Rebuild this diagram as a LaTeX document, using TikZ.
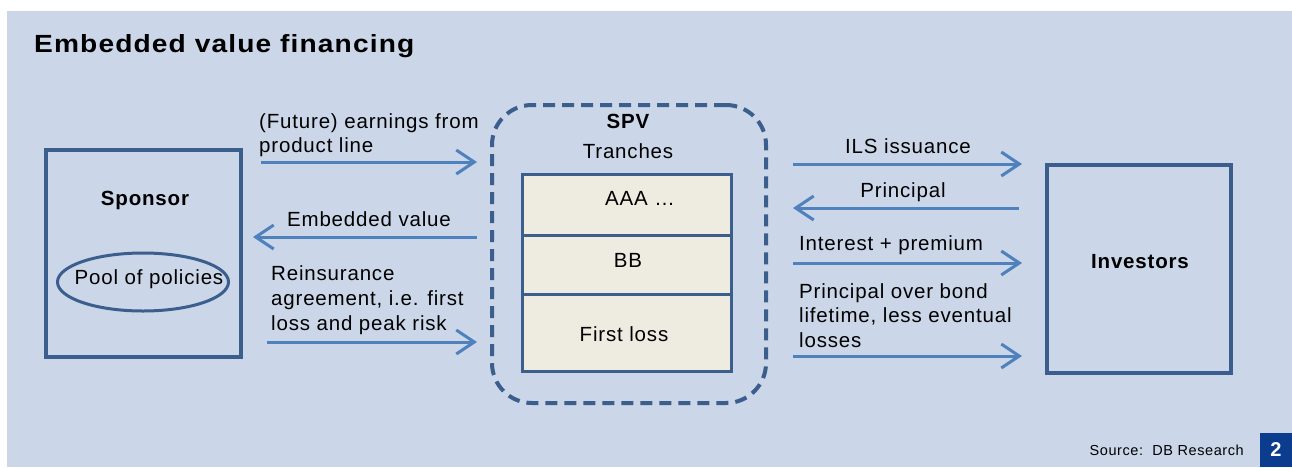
\documentclass[tikz,border=0pt]{standalone}
\usepackage{fontspec}
\setmainfont{Liberation Sans}[LetterSpace=4.0]
\usetikzlibrary{arrows.meta,shapes.geometric}
\definecolor{bg}{HTML}{CBD7E9}
\definecolor{boxc}{HTML}{3B5E8C}
\definecolor{arr}{HTML}{4F81BD}
\definecolor{cream}{HTML}{EEECE1}
\definecolor{numbox}{HTML}{0B3C8E}
\begin{document}
\begin{tikzpicture}[x=1pt,y=-1pt,
  flow/.style={draw=arr,line width=3pt,-{Straight Barb[length=18pt,width=24pt,line width=3pt]}},
  lbl/.style={inner sep=0pt,font=\fontsize{20.5}{25}\selectfont,text=black},
  blbl/.style={lbl,font=\fontsize{20.5}{25}\selectfont\bfseries},
  box/.style={draw=boxc,line width=4pt},
  cell/.style={draw=boxc,line width=3pt,fill=cream,minimum width=209pt,inner sep=0pt}]
\useasboundingbox (0,0) rectangle (1292,467);
\fill[white] (0,0) rectangle (1292,467);
\fill[bg] (7,11) rectangle (1292,467);

\node[anchor=base west,inner sep=0pt] (title) at (34,52) {\resizebox{380pt}{18pt}{\bfseries Embedded value financing}};

% Sponsor
\node[box,minimum width=195pt,minimum height=207pt] (sponsor) at (143.5,253.5) {};
\node[blbl,anchor=base] (sponsortxt) at (145,205) {Sponsor};
\node[draw=boxc,line width=3pt,ellipse,minimum width=171pt,minimum height=58pt,inner sep=0pt] (pool) at (143,282) {};
\node[lbl,anchor=base] (pooltxt) at (149,284) {Pool of policies};

% SPV
\node[draw=boxc,line width=4pt,dash pattern=on 12pt off 7pt,rounded corners=40pt,minimum width=274pt,minimum height=298pt] (spv) at (629,254) {};
\node[blbl,anchor=base] (spvtxt) at (628,128) {SPV};
\node[lbl,anchor=base] (tranches) at (628,158) {Tranches};
\node[cell,minimum height=60.5pt] (c1) at (627,204.75) {};
\node[cell,minimum height=59pt] (c2) at (627,264.5) {};
\node[cell,minimum height=77.5pt] (c3) at (627,332.75) {};
\node[lbl,anchor=base] (aaa) at (640,205) {AAA \dots};
\node[lbl,anchor=base] (bb) at (628,267) {BB};
\node[lbl,anchor=base] (fl) at (624,341) {First loss};

% Investors
\node[box,minimum width=184pt,minimum height=208pt] (inv) at (1139,269) {};
\node[blbl,anchor=base] (invtxt) at (1140,268) {Investors};

% arrow endpoints
\coordinate (a1s) at (261,162); \coordinate (a1e) at (477,162);
\coordinate (a2s) at (477,237); \coordinate (a2e) at (253,237);
\coordinate (a3s) at (267,342); \coordinate (a3e) at (477,342);
\coordinate (a4s) at (793,164); \coordinate (a4e) at (1022,164);
\coordinate (a5s) at (1019,208); \coordinate (a5e) at (793,208);
\coordinate (a6s) at (793,263); \coordinate (a6e) at (1022,263);
\coordinate (a7s) at (793,356); \coordinate (a7e) at (1022,356);
\draw[flow] (a1s) -- (a1e);
\draw[flow] (a2s) -- (a2e);
\draw[flow] (a3s) -- (a3e);
\draw[flow] (a4s) -- (a4e);
\draw[flow] (a5s) -- (a5e);
\draw[flow] (a6s) -- (a6e);
\draw[flow] (a7s) -- (a7e);

% labels (base anchor = baseline of last line)
\node[lbl,anchor=base west,align=left] (l1) at (259,152) {(Future) earnings from\\[-1pt]product line};
\node[lbl,anchor=base] (l2) at (369,226) {Embedded value};
\node[lbl,anchor=base west,align=left] (l3) at (271,330) {Reinsurance\\agreement, i.e. first\\loss and peak risk};
\node[lbl,anchor=base] (l4) at (908,153) {ILS issuance};
\node[lbl,anchor=base] (l5) at (903,197) {Principal};
\node[lbl,anchor=base west] (l6) at (799,250) {Interest + premium};
\node[lbl,anchor=base west,align=left] (l7) at (799,347) {Principal over bond\\[-0.5pt]lifetime, less eventual\\[-0.5pt]losses};

% footer
\node[inner sep=0pt,anchor=base east,font=\fontsize{14.5}{16}\selectfont] (src) at (1244,455) {Source:\ \ DB Research};
\node[fill=numbox,minimum width=32pt,minimum height=34pt,inner sep=0pt,text=white,font=\fontsize{20}{20}\selectfont\bfseries] (num) at (1276,450) {2};
\end{tikzpicture}
\end{document}
